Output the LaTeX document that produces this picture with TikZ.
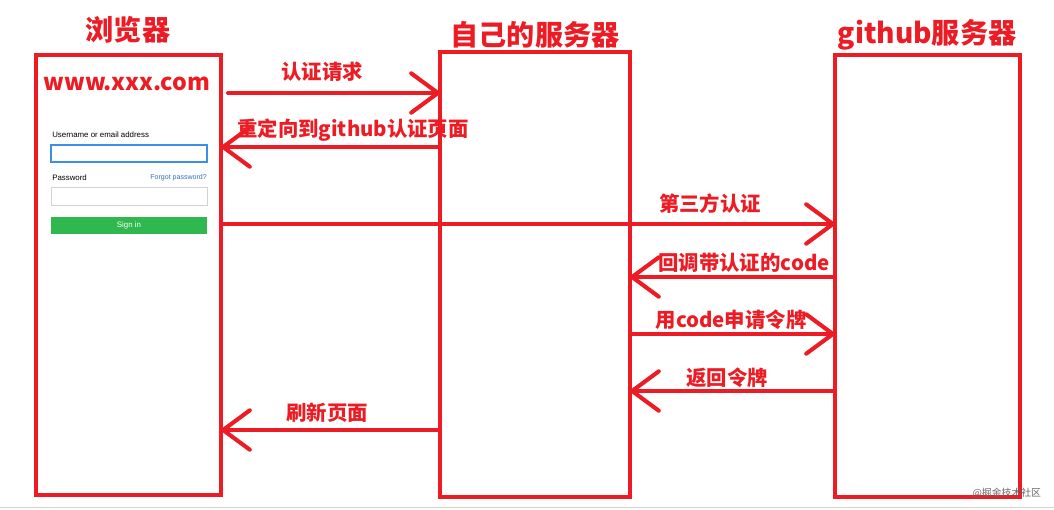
\documentclass[tikz,border=0pt]{standalone}
\usepackage{fontspec}
\setmainfont{Noto Sans CJK SC}
\newfontfamily\uifont{Liberation Sans}
\usetikzlibrary{arrows.meta}
\definecolor{mred}{HTML}{ED1C24}
\definecolor{ublue}{HTML}{3B8EEA}
\definecolor{bgreen}{HTML}{2EB84E}

\begin{document}
\begin{tikzpicture}[x=0.025cm, y=-0.025cm]
		\tikzstyle{box} = [draw=mred, line width=2.9pt, inner sep=0pt, outer sep=0pt]
		\tikzstyle{title} = [text=mred, font=\bfseries\fontsize{20}{24}\selectfont]
		\tikzstyle{label} = [text=mred, font=\bfseries\fontsize{14.5}{17}\selectfont]
		\tikzstyle{msg} = [draw=mred, line width=2.9pt, line cap=round, -{Straight Barb[round, length=19pt, width=28pt]}]
		\tikzstyle{ui} = [inner sep=0pt, font=\uifont\fontsize{5.6}{6}\selectfont]
		\useasboundingbox (0,0) rectangle (1054,509);
		\draw [gray!35, line width=0.7pt] (0,507) -- (1054,507);
		\node [box, minimum width=4.625cm, minimum height=11cm] (browser) at (128.5,275) {};
		\node [box, minimum width=4.75cm, minimum height=11.125cm] (server) at (535,274.5) {};
		\node [box, minimum width=4.625cm, minimum height=11.05cm] (github) at (927.5,276) {};
		\node [title] (tbrowser) at (128,30) {浏览器};
		\node [title] (tserver) at (535,35) {自己的服务器};
		\node [title] (tgithub) at (927,35) {github服务器};
		\node [text=mred, font=\bfseries\fontsize{16.5}{19}\selectfont] (site) at (127,84) {www.xxx.com};
		\node [ui, anchor=west] (user) at (52,135) {Username or email address};
		\draw [ublue, line width=0.8pt] (51,145) rectangle (207,162);
		\node [ui, anchor=west] (pwd) at (52,178) {Password};
		\node [ui, anchor=east, text=ublue!80!black, font=\uifont\fontsize{5}{6}\selectfont] (forgot) at (207,178) {Forgot password?};
		\draw [gray!35, line width=0.6pt] (51,187) rectangle (207,205);
		\node [ui, fill=bgreen, text=white, minimum width=3.9cm, minimum height=0.425cm] (signin) at (129,225.5) {Sign in};
		\draw [msg, shorten <=5pt] (browser.east |- 0,93) -- (server.west |- 0,93);
		\draw [msg] (server.west |- 0,147) -- (browser.east |- 0,147);
		\draw [msg] (browser.east |- 0,224) -- (github.west |- 0,224);
		\draw [msg] (github.west |- 0,277) -- (server.east |- 0,277);
		\draw [msg] (server.east |- 0,334) -- (github.west |- 0,334);
		\draw [msg] (github.west |- 0,391) -- (server.east |- 0,391);
		\draw [msg] (server.west |- 0,430) -- (browser.east |- 0,430);
		\node [label] (l1) at (322,72) {认证请求};
		\node [label] (l2) at (353,130) {重定向到github认证页面};
		\node [label] (l3) at (710,204) {第三方认证};
		\node [label] (l4) at (744,263) {回调带认证的code};
		\node [label] (l5) at (731,320) {用code申请令牌};
		\node [label] (l6) at (727,378) {返回令牌};
		\node [label] (l7) at (327,413) {刷新页面};
		\node [anchor=east, text=gray!80!black, font=\fontsize{7}{8}\selectfont] (mark) at (1046,493) {@掘金技术社区};
	\end{tikzpicture}
\end{document}
